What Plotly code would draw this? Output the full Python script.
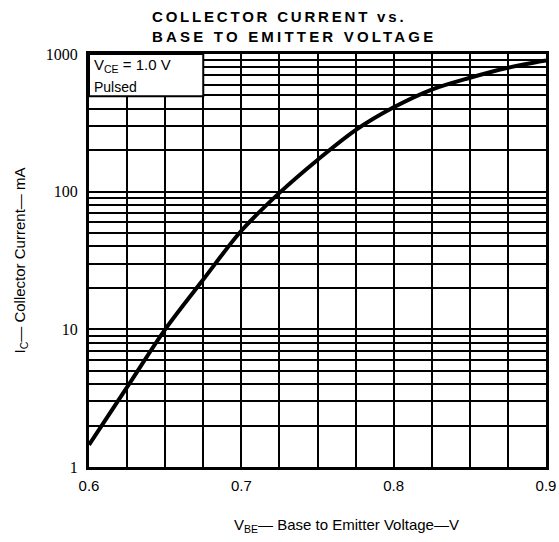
import plotly.graph_objects as go

# Data
vbe = [0.6, 0.625, 0.65, 0.675, 0.7, 0.725, 0.75, 0.775, 0.8, 0.825, 0.85, 0.875, 0.9]
ic_ma = [1.45, 3.8, 10, 23, 52, 98, 170, 280, 410, 552, 672, 795, 897]

x_tickvals = [0.6, 0.7, 0.8, 0.9]
x_ticktext = ["0.6", "0.7", "0.8", "0.9"]
y_tickvals = [1, 10, 100, 1000]
y_ticktext = ["1", "10", "100", "1000"]

title_lines = ["COLLECTOR CURRENT vs.", "BASE TO EMITTER VOLTAGE"]
x_title = "V<sub>BE</sub>\u2014 Base to Emitter Voltage\u2014V"
y_title = "I<sub>C</sub>\u2014 Collector Current\u2014 mA"
cond_lines = ["V<sub>CE</sub> = 1.0 V", "Pulsed"]

fig = go.Figure()
fig.add_trace(go.Scatter(
    x=vbe, y=ic_ma, mode="lines",
    line=dict(color="black", width=4, shape="spline", smoothing=0.9),
    showlegend=False, hoverinfo="skip",
))

sans = "Liberation Sans, Arial, sans-serif"
serif = "Liberation Serif, Times New Roman, serif"

# plot area at 89..546 x 54..467 (page body margin removed in post_script)
W, H = 559, 542
L, T = 89, 54
PW, PH = 457, 413
R = W - L - PW
B = H - T - PH

fig.update_layout(
    width=W, height=H,
    margin=dict(l=L, r=R, t=T, b=B, autoexpand=False),
    paper_bgcolor="white", plot_bgcolor="white",
    showlegend=False,
    xaxis=dict(
        range=[0.6, 0.9], tickvals=x_tickvals, ticktext=x_ticktext,
        automargin=False,
        showgrid=True, gridcolor="black", gridwidth=1.8,
        minor=dict(tick0=0.6, dtick=0.025, showgrid=True, gridcolor="black", gridwidth=1.8, ticks=""),
        showline=True, linecolor="black", linewidth=3, mirror=True,
        ticks="", ticklabelstandoff=3,
        tickfont=dict(family=sans, size=15, color="black"),
        zeroline=False,
    ),
    yaxis=dict(
        type="log", range=[0, 3], tickvals=y_tickvals, ticktext=y_ticktext,
        automargin=False,
        showgrid=True, gridcolor="black", gridwidth=1.8,
        minor=dict(dtick="D1", showgrid=True, gridcolor="black", gridwidth=1.8, ticks=""),
        showline=True, linecolor="black", linewidth=3, mirror=True,
        ticks="", ticklabelstandoff=5,
        tickfont=dict(family=serif, size=16, color="black"),
        zeroline=False,
    ),
)

# condition box (white area covering grid, top-left)
fig.add_shape(type="rect", xref="x", yref="paper",
              x0=0.6, x1=0.675, y0=0.898, y1=1.0,
              fillcolor="white", line=dict(color="black", width=2), layer="above")

fig.add_annotation(xref="paper", yref="paper", x=3 / PW, y=1 - 11 / PH,
                   xanchor="left", yanchor="middle", showarrow=False,
                   text=cond_lines[0], font=dict(family=sans, size=15, color="black"))
fig.add_annotation(xref="paper", yref="paper", x=3 / PW, y=1 - 33 / PH,
                   xanchor="left", yanchor="middle", showarrow=False,
                   text=cond_lines[1], font=dict(family=sans, size=14, color="black"))

# title (two lines, left aligned, letter-spaced)
title_font = dict(family="Liberation Sans, Arial, sans-serif", size=15, color="black")
fig.add_annotation(xref="paper", yref="paper", x=(151 - 89) / PW, y=1 + (54 - 17) / PH,
                   xanchor="left", yanchor="middle", showarrow=False, borderpad=0,
                   text='<span style="letter-spacing:2.8px"><b>' + title_lines[0] + "</b></span>",
                   font=title_font)
fig.add_annotation(xref="paper", yref="paper", x=(151 - 89) / PW, y=1 + (54 - 36) / PH,
                   xanchor="left", yanchor="middle", showarrow=False, borderpad=0,
                   text='<span style="letter-spacing:3.2px"><b>' + title_lines[1] + "</b></span>",
                   font=title_font)

# axis titles
fig.add_annotation(xref="paper", yref="paper", x=(346 - 89) / PW, y=-(525 - 467) / PH,
                   xanchor="center", yanchor="middle", showarrow=False,
                   text=x_title, font=dict(family=sans, size=15, color="black"))
fig.add_annotation(xref="paper", yref="paper", x=-(89 - 20) / PW, y=0.5,
                   xanchor="center", yanchor="middle", showarrow=False, textangle=-90,
                   text=y_title, font=dict(family=sans, size=15, color="black"))

fig.write_html(
    "out.html",
    config={"displayModeBar": False},
    post_script="document.body.style.margin='0';document.body.style.overflow='hidden';",
)
